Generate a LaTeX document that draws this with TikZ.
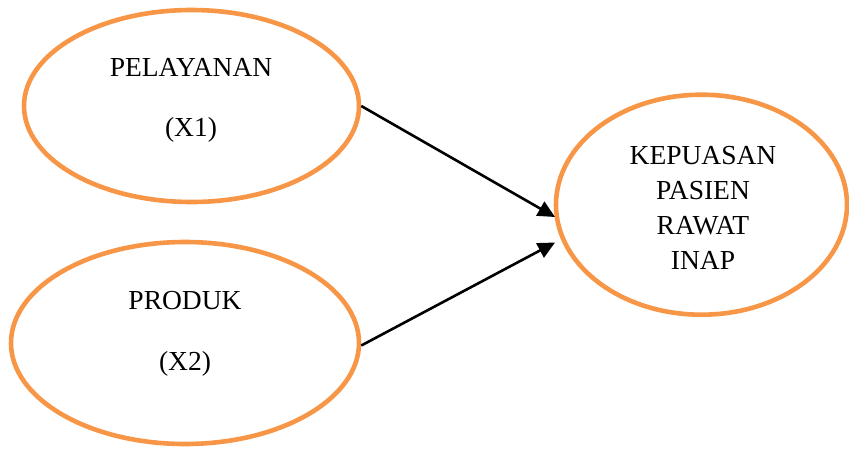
\documentclass[tikz,border=0pt]{standalone}
\usepackage{fontspec}
\setmainfont{Liberation Serif}
\usetikzlibrary{shapes.geometric,arrows.meta}
\definecolor{accorange}{HTML}{F79646}
\begin{document}
\begin{tikzpicture}[x=1pt,y=-1pt,
  oval/.style={ellipse,draw=accorange,line width=4.6pt,inner sep=0pt},
  lbl/.style={font=\fontsize{27.5}{35}\selectfont,align=center,inner sep=0pt},
  conn/.style={line width=2.6pt,-{Triangle[length=17pt,width=16pt]}}]
\useasboundingbox (0,0) rectangle (849,448);
\node[oval,minimum width=335pt,minimum height=192pt] (e1) at (191.5,106) {};
\node[oval,minimum width=348pt,minimum height=202pt] (e2) at (185,343) {};
\node[oval,minimum width=291pt,minimum height=220pt] (e3) at (701.5,204.7) {};
\node[lbl] (t1a) at (191,67) {PELAYANAN};
\node[lbl] (t1b) at (191,130) {(X1)};
\node[lbl] (t2a) at (185,301) {PRODUK};
\node[lbl] (t2b) at (185,364) {(X2)};
\node[lbl] (t3) at (703,207.5) {KEPUASAN\\PASIEN\\RAWAT\\INAP};
\coordinate (a1e) at (555,217);
\coordinate (a2e) at (555,242.5);
\draw[conn] (e1.east) -- (a1e);
\draw[conn] ([yshift=-2.5pt]e2.east) -- (a2e);
\end{tikzpicture}
\end{document}
